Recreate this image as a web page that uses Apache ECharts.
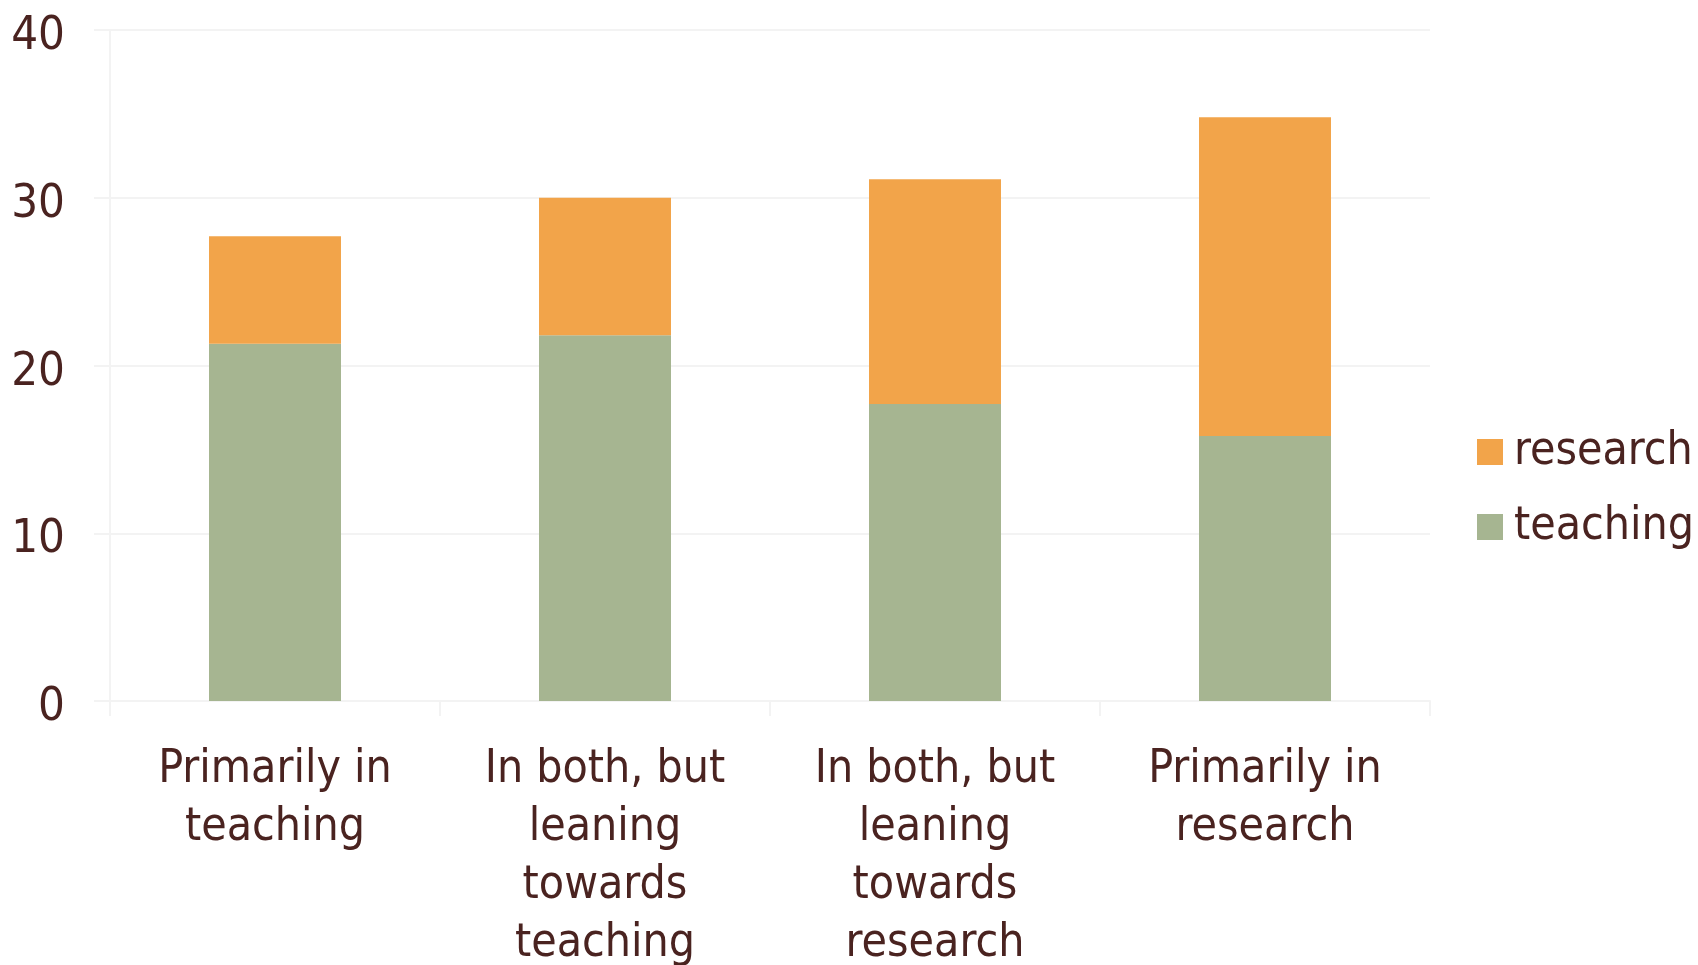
<!DOCTYPE html>
<html><head><meta charset="utf-8">
<script src="https://cdn.jsdelivr.net/npm/echarts@6/dist/echarts.min.js"></script>
<style>html,body{margin:0;padding:0;background:#fff}#c{width:1698px;height:965px}</style>
</head><body><div id="c"></div>
<script>
const categories = ["Primarily in\nteaching", "In both, but\nleaning\ntowards\nteaching", "In both, but\nleaning\ntowards\nresearch", "Primarily in\nresearch"];
const teaching = [21.3, 21.8, 17.7, 15.8];
const research = [6.4, 8.2, 13.4, 19.0];
const yTicks = [0, 10, 20, 30, 40];

const txt = '#4a2320';
const font = 'DejaVu Sans Condensed';
const faint = '#f3f3f3';
const chart = echarts.init(document.getElementById('c'));
chart.setOption({
  animation: false,
  textStyle: {fontFamily: font},
  grid: {left: 110, right: 268, top: 30, bottom: 264, containLabel: false, outerBoundsMode: 'none'},
  legend: {
    orient: 'vertical', left: 1472, top: 424,
    icon: 'rect',
    itemWidth: 26, itemHeight: 26, itemGap: 29,
    data: ['research', 'teaching'],
    textStyle: {color: txt, fontSize: 46, fontFamily: font, padding: [0,0,0,6]}
  },
  xAxis: {
    type: 'category', data: categories,
    axisLine: {lineStyle: {color: faint, width: 2}},
    axisTick: {show: true, length: 15, lineStyle: {color: faint, width: 2}},
    axisLabel: {color: txt, fontSize: 46, lineHeight: 58, margin: 40, interval: 0, fontFamily: font}
  },
  yAxis: {
    type: 'value', min: yTicks[0], max: yTicks[yTicks.length-1], interval: 10,
    axisLine: {show: true, lineStyle: {color: faint, width: 2}},
    axisTick: {show: true, length: 16, lineStyle: {color: faint, width: 2}},
    splitLine: {lineStyle: {color: faint, width: 2}},
    axisLabel: {color: txt, fontSize: 47, margin: 45, verticalAlign: 'top', lineHeight: 14, fontFamily: font}
  },
  series: [
    {name: 'teaching', type: 'bar', stack: 's', data: teaching, barWidth: '40%',
     itemStyle: {color: '#a6b591'}},
    {name: 'research', type: 'bar', stack: 's', data: research, barWidth: '40%',
     itemStyle: {color: '#f2a44a'}}
  ]
});
</script></body></html>
